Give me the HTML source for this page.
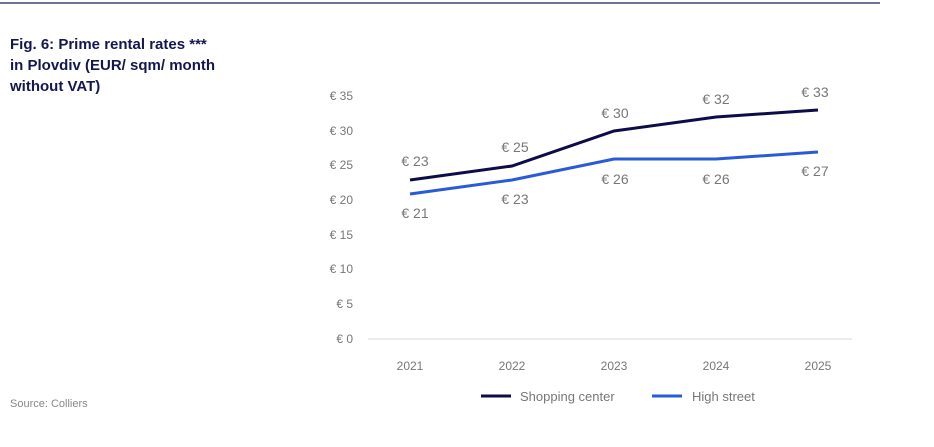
<!DOCTYPE html>
<html><head><meta charset="utf-8"><style>
body{margin:0;width:934px;height:447px;background:#fff;overflow:hidden;font-family:"Liberation Sans",sans-serif;}
</style></head><body>
<svg width="934" height="447" xmlns="http://www.w3.org/2000/svg" style="position:absolute;left:0;top:0">
<line x1="0" y1="3" x2="880" y2="3" stroke="#1a1f4f" stroke-width="1.2"/>
<g font-family="Liberation Sans, sans-serif" font-weight="bold" font-size="15" fill="#14164f">
<text x="10" y="49">Fig. 6: Prime rental rates ***</text>
<text x="10" y="70">in Plovdiv (EUR/ sqm/ month</text>
<text x="10" y="91">without VAT)</text>
</g>
<g font-family="Liberation Sans, sans-serif" font-size="12" fill="#777" text-anchor="end">
<text x="353" y="100">€ 35</text>
<text x="353" y="135">€ 30</text>
<text x="353" y="169">€ 25</text>
<text x="353" y="204">€ 20</text>
<text x="353" y="239">€ 15</text>
<text x="353" y="273">€ 10</text>
<text x="353" y="308">€ 5</text>
<text x="353" y="343">€ 0</text>
</g>
<line x1="368" y1="339" x2="852" y2="339" stroke="#d8d8d8" stroke-width="1"/>
<g font-family="Liberation Sans, sans-serif" font-size="12" fill="#777" text-anchor="middle">
<text x="410" y="370">2021</text><text x="512" y="370">2022</text><text x="614" y="370">2023</text><text x="716" y="370">2024</text><text x="818" y="370">2025</text>
</g>
<polyline points="410,180 512,166 614,131 716,117 818,110" fill="none" stroke="#0c0c4a" stroke-width="3"/>
<polyline points="410,194 512,180 614,159 716,159 818,152" fill="none" stroke="#2a5bd7" stroke-width="3"/>
<g font-family="Liberation Sans, sans-serif" font-size="14" fill="#777" text-anchor="middle">
<text x="415" y="166">€ 23</text><text x="515" y="152">€ 25</text><text x="615" y="118">€ 30</text><text x="716" y="104">€ 32</text><text x="815" y="97">€ 33</text>
<text x="415" y="218">€ 21</text><text x="515" y="204">€ 23</text><text x="615" y="184">€ 26</text><text x="716" y="184">€ 26</text><text x="815" y="176">€ 27</text>
</g>
<line x1="481" y1="396" x2="511" y2="396" stroke="#0c0c4a" stroke-width="3"/>
<text x="520" y="401" font-family="Liberation Sans, sans-serif" font-size="13" fill="#777">Shopping center</text>
<line x1="652" y1="396" x2="682" y2="396" stroke="#2a5bd7" stroke-width="3"/>
<text x="692" y="401" font-family="Liberation Sans, sans-serif" font-size="13" fill="#777">High street</text>
<text x="10" y="407" font-family="Liberation Sans, sans-serif" font-size="11" fill="#888">Source: Colliers</text>
</svg>
</body></html>
